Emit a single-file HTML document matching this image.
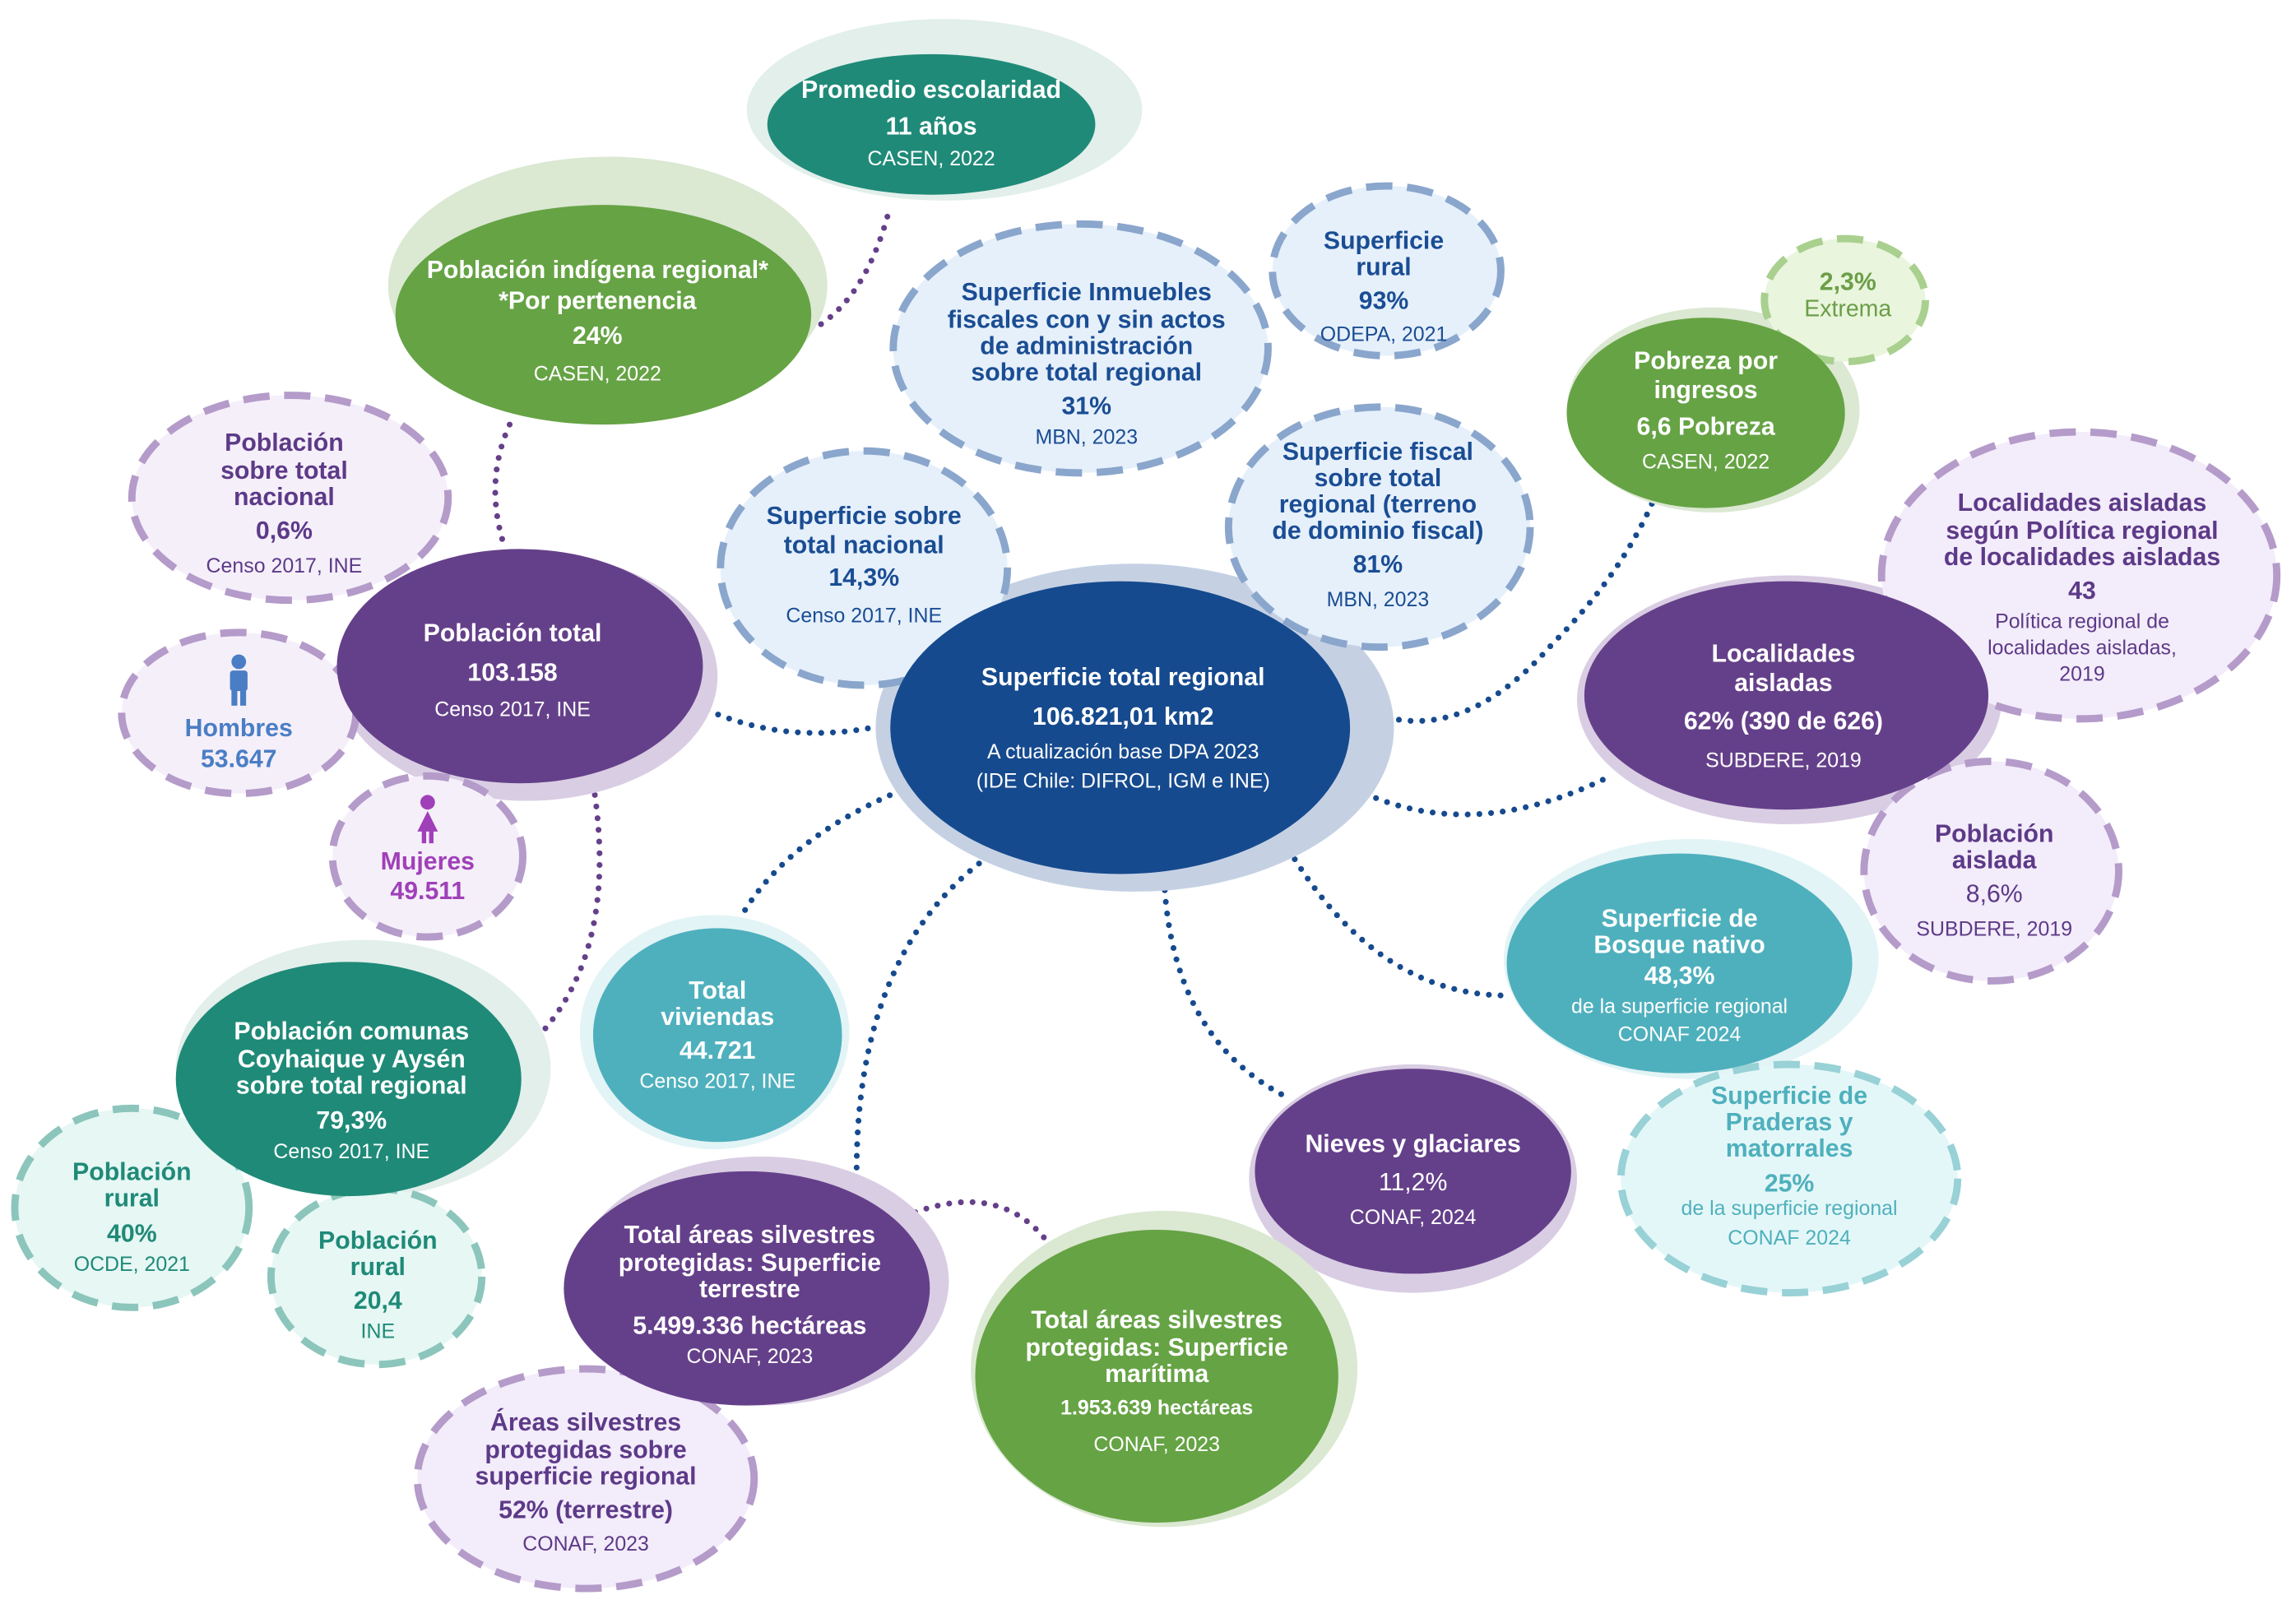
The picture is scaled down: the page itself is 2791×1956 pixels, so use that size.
<!DOCTYPE html>
<html><head><meta charset="utf-8"><style>
html,body{margin:0;padding:0;background:#fff}
svg{display:block}
text{font-family:"Liberation Sans",sans-serif;text-anchor:middle}
.b{font-weight:bold}
</style></head><body>
<svg width="2791" height="1956" viewBox="0 0 1568 1099" xmlns="http://www.w3.org/2000/svg">
<g fill="none" stroke-linecap="round" stroke-width="4" stroke-dasharray="0 8">
<path d="M606,148 Q590,205 555,225" stroke="#65408a"/>
<path d="M348,290 Q330,330 345,375" stroke="#65408a"/>
<path d="M405,535 Q425,660 355,720" stroke="#65408a"/>
<path d="M625,828 Q690,805 722,858" stroke="#65408a"/>
<path d="M483,485 Q540,510 605,495" stroke="#164a8e"/>
<path d="M615,540 Q520,580 495,650" stroke="#164a8e"/>
<path d="M675,585 Q585,650 585,800" stroke="#164a8e"/>
<path d="M795,600 Q800,710 880,750" stroke="#164a8e"/>
<path d="M880,580 Q940,680 1030,680" stroke="#164a8e"/>
<path d="M918,535 Q1000,580 1100,530" stroke="#164a8e"/>
<path d="M918,478 Q990,520 1060,440 Q1110,390 1132,335" stroke="#164a8e"/>
</g>
<!-- halos -->
<ellipse cx="645" cy="75" rx="135" ry="62" fill="#e2efeb"/>
<ellipse cx="415" cy="195" rx="150" ry="88" fill="#dbe8d2"/>
<ellipse cx="1170" cy="280" rx="100" ry="70" fill="#dbe8d2"/>
<ellipse cx="360" cy="462" rx="130" ry="85" fill="#d9cde3"/>
<ellipse cx="775" cy="497" rx="177" ry="112" fill="#c5d1e3"/>
<ellipse cx="1222" cy="478" rx="145" ry="85" fill="#d9cde3"/>
<ellipse cx="1155" cy="655" rx="128" ry="82" fill="#e3f4f6"/>
<ellipse cx="488" cy="705" rx="92" ry="80" fill="#e3f4f6"/>
<ellipse cx="248" cy="730" rx="128" ry="88" fill="#e2efeb"/>
<ellipse cx="965" cy="805" rx="112" ry="78" fill="#d9cde3"/>
<ellipse cx="520" cy="875" rx="128" ry="85" fill="#d9cde3"/>
<ellipse cx="795" cy="935" rx="132" ry="108" fill="#dbe8d2"/>
<!-- dashed bubbles -->
<g stroke-width="5" stroke-dasharray="18 10">
<ellipse cx="738" cy="238" rx="128" ry="85" fill="#e6f0fb" stroke="#8aa6cc"/>
<ellipse cx="947" cy="185" rx="78" ry="58" fill="#e6f0fb" stroke="#8aa6cc"/>
<ellipse cx="1260" cy="205" rx="55" ry="42" fill="#e9f5dc" stroke="#a9d08e"/>
<ellipse cx="942" cy="360" rx="103" ry="82" fill="#e6f0fb" stroke="#8aa6cc"/>
<ellipse cx="590" cy="388" rx="98" ry="80" fill="#e6f0fb" stroke="#8aa6cc"/>
<ellipse cx="198" cy="340" rx="108" ry="70" fill="#f5effa" stroke="#b49bc9"/>
<ellipse cx="1420" cy="393" rx="135" ry="98" fill="#f3ecfa" stroke="#b49bc9"/>
<ellipse cx="163" cy="487" rx="80" ry="55" fill="#f5effa" stroke="#b49bc9"/>
<ellipse cx="292" cy="585" rx="65" ry="55" fill="#f5effa" stroke="#b49bc9"/>
<ellipse cx="1360" cy="595" rx="87" ry="75" fill="#f3ecfa" stroke="#b49bc9"/>
<ellipse cx="1222" cy="805" rx="115" ry="78" fill="#e4f7f8" stroke="#98d1d6"/>
<ellipse cx="90" cy="825" rx="80" ry="68" fill="#e6f7f4" stroke="#8cc5bb"/>
<ellipse cx="257" cy="872" rx="72" ry="60" fill="#e6f7f4" stroke="#8cc5bb"/>
<ellipse cx="400" cy="1010" rx="115" ry="75" fill="#f3ecfa" stroke="#b49bc9"/>
</g>
<!-- solid bubbles -->
<ellipse cx="636" cy="85" rx="112" ry="48" fill="#1f8a78"/>
<ellipse cx="412" cy="215" rx="142" ry="75" fill="#66a344"/>
<ellipse cx="1165" cy="282" rx="95" ry="65" fill="#66a344"/>
<ellipse cx="355" cy="455" rx="125" ry="80" fill="#65408a"/>
<ellipse cx="765" cy="497" rx="157" ry="100" fill="#164a8e"/>
<ellipse cx="1220" cy="475" rx="138" ry="78" fill="#65408a"/>
<ellipse cx="1147" cy="658" rx="118" ry="75" fill="#4fb0bd"/>
<ellipse cx="490" cy="707" rx="85" ry="73" fill="#4fb0bd"/>
<ellipse cx="238" cy="737" rx="118" ry="80" fill="#1f8a78"/>
<ellipse cx="965" cy="800" rx="108" ry="70" fill="#65408a"/>
<ellipse cx="510" cy="880" rx="125" ry="80" fill="#65408a"/>
<ellipse cx="790" cy="940" rx="124" ry="100" fill="#66a344"/>
<!-- icons -->
<g fill="#4a7ec4"><circle cx="163" cy="452" r="5"/><rect x="157" y="458" width="12" height="14" rx="2"/><rect x="158" y="470" width="4" height="12"/><rect x="164" y="470" width="4" height="12"/></g>
<g fill="#a040b8"><circle cx="292" cy="548" r="5"/><path d="M292,554 L299,568 L285,568 Z"/><rect x="288" y="566" width="3" height="10"/><rect x="293" y="566" width="3" height="10"/></g>
<!-- text -->
<g fill="#fff">
<text x="636" y="67" font-size="17" class="b">Promedio escolaridad</text>
<text x="636" y="92" font-size="17" class="b">11 años</text>
<text x="636" y="113" font-size="14">CASEN, 2022</text>
<text x="408" y="190" font-size="17" class="b">Población indígena regional*</text>
<text x="408" y="211" font-size="17" class="b">*Por pertenencia</text>
<text x="408" y="235" font-size="17" class="b">24%</text>
<text x="408" y="260" font-size="14">CASEN, 2022</text>
<text x="1165" y="252" font-size="17" class="b">Pobreza por</text>
<text x="1165" y="272" font-size="17" class="b">ingresos</text>
<text x="1165" y="297" font-size="17" class="b">6,6 Pobreza</text>
<text x="1165" y="320" font-size="14">CASEN, 2022</text>
<text x="350" y="438" font-size="17" class="b">Población total</text>
<text x="350" y="465" font-size="17" class="b">103.158</text>
<text x="350" y="489" font-size="14">Censo 2017, INE</text>
<text x="767" y="468" font-size="17" class="b">Superficie total regional</text>
<text x="767" y="495" font-size="17" class="b">106.821,01 km2</text>
<text x="767" y="518" font-size="14">A  ctualización base DPA 2023</text>
<text x="767" y="538" font-size="14">(IDE Chile: DIFROL, IGM e INE)</text>
<text x="1218" y="452" font-size="17" class="b">Localidades</text>
<text x="1218" y="472" font-size="17" class="b">aisladas</text>
<text x="1218" y="498" font-size="17" class="b">62% (390 de 626)</text>
<text x="1218" y="524" font-size="14">SUBDERE, 2019</text>
<text x="1147" y="633" font-size="17" class="b">Superficie de</text>
<text x="1147" y="651" font-size="17" class="b">Bosque nativo</text>
<text x="1147" y="672" font-size="17" class="b">48,3%</text>
<text x="1147" y="692" font-size="14">de la superficie regional</text>
<text x="1147" y="711" font-size="14">CONAF 2024</text>
<text x="490" y="682" font-size="17" class="b">Total</text>
<text x="490" y="700" font-size="17" class="b">viviendas</text>
<text x="490" y="723" font-size="17" class="b">44.721</text>
<text x="490" y="743" font-size="14">Censo 2017, INE</text>
<text x="240" y="710" font-size="17" class="b">Población comunas</text>
<text x="240" y="729" font-size="17" class="b">Coyhaique y Aysén</text>
<text x="240" y="747" font-size="17" class="b">sobre total regional</text>
<text x="240" y="771" font-size="17" class="b">79,3%</text>
<text x="240" y="791" font-size="14">Censo 2017, INE</text>
<text x="965" y="787" font-size="17" class="b">Nieves y glaciares</text>
<text x="965" y="813" font-size="17">11,2%</text>
<text x="965" y="836" font-size="14">CONAF, 2024</text>
<text x="512" y="849" font-size="17" class="b">Total áreas silvestres</text>
<text x="512" y="868" font-size="17" class="b">protegidas: Superficie</text>
<text x="512" y="886" font-size="17" class="b">terrestre</text>
<text x="512" y="911" font-size="17" class="b">5.499.336 hectáreas</text>
<text x="512" y="931" font-size="14">CONAF, 2023</text>
<text x="790" y="907" font-size="17" class="b">Total áreas silvestres</text>
<text x="790" y="926" font-size="17" class="b">protegidas: Superficie</text>
<text x="790" y="944" font-size="17" class="b">marítima</text>
<text x="790" y="966" font-size="14" class="b">1.953.639 hectáreas</text>
<text x="790" y="991" font-size="14">CONAF, 2023</text>
</g>
<g fill="#1a4d93">
<text x="742" y="205" font-size="17" class="b">Superficie Inmuebles</text>
<text x="742" y="224" font-size="17" class="b">fiscales con y sin actos</text>
<text x="742" y="242" font-size="17" class="b">de administración</text>
<text x="742" y="260" font-size="17" class="b">sobre total regional</text>
<text x="742" y="283" font-size="17" class="b">31%</text>
<text x="742" y="303" font-size="14">MBN, 2023</text>
<text x="945" y="170" font-size="17" class="b">Superficie</text>
<text x="945" y="188" font-size="17" class="b">rural</text>
<text x="945" y="211" font-size="17" class="b">93%</text>
<text x="945" y="233" font-size="14">ODEPA, 2021</text>
<text x="941" y="314" font-size="17" class="b">Superficie fiscal</text>
<text x="941" y="332" font-size="17" class="b">sobre total</text>
<text x="941" y="350" font-size="17" class="b">regional (terreno</text>
<text x="941" y="368" font-size="17" class="b">de dominio fiscal)</text>
<text x="941" y="391" font-size="17" class="b">81%</text>
<text x="941" y="414" font-size="14">MBN, 2023</text>
<text x="590" y="358" font-size="17" class="b">Superficie sobre</text>
<text x="590" y="378" font-size="17" class="b">total nacional</text>
<text x="590" y="400" font-size="17" class="b">14,3%</text>
<text x="590" y="425" font-size="14">Censo 2017, INE</text>
</g>
<g fill="#6b9e48"><text x="1262" y="198" font-size="17" class="b">2,3%</text><text x="1262" y="216" font-size="16">Extrema</text></g>
<g fill="#5d3a88">
<text x="194" y="308" font-size="17" class="b">Población</text>
<text x="194" y="327" font-size="17" class="b">sobre total</text>
<text x="194" y="345" font-size="17" class="b">nacional</text>
<text x="194" y="368" font-size="17" class="b">0,6%</text>
<text x="194" y="391" font-size="14">Censo 2017, INE</text>
<text x="1422" y="349" font-size="17" class="b">Localidades aisladas</text>
<text x="1422" y="368" font-size="17" class="b">según Política regional</text>
<text x="1422" y="386" font-size="17" class="b">de localidades aisladas</text>
<text x="1422" y="409" font-size="17" class="b">43</text>
<text x="1422" y="429" font-size="14">Política regional de</text>
<text x="1422" y="447" font-size="14">localidades aisladas,</text>
<text x="1422" y="465" font-size="14">2019</text>
<text x="1362" y="575" font-size="17" class="b">Población</text>
<text x="1362" y="593" font-size="17" class="b">aislada</text>
<text x="1362" y="616" font-size="17">8,6%</text>
<text x="1362" y="639" font-size="14">SUBDERE, 2019</text>
<text x="400" y="977" font-size="17" class="b">Áreas silvestres</text>
<text x="400" y="996" font-size="17" class="b">protegidas sobre</text>
<text x="400" y="1014" font-size="17" class="b">superficie regional</text>
<text x="400" y="1037" font-size="17" class="b">52% (terrestre)</text>
<text x="400" y="1059" font-size="14">CONAF, 2023</text>
</g>
<g fill="#4a7ec4" class="b"><text x="163" y="503" font-size="17" class="b">Hombres</text><text x="163" y="524" font-size="17" class="b">53.647</text></g>
<g fill="#a040b8"><text x="292" y="594" font-size="17" class="b">Mujeres</text><text x="292" y="614" font-size="17" class="b">49.511</text></g>
<g fill="#4fb0bd">
<text x="1222" y="754" font-size="17" class="b">Superficie de</text>
<text x="1222" y="772" font-size="17" class="b">Praderas y</text>
<text x="1222" y="790" font-size="17" class="b">matorrales</text>
<text x="1222" y="814" font-size="17" class="b">25%</text>
<text x="1222" y="830" font-size="14">de la superficie regional</text>
<text x="1222" y="850" font-size="14">CONAF 2024</text>
</g>
<g fill="#1f8a78">
<text x="90" y="806" font-size="17" class="b">Población</text>
<text x="90" y="824" font-size="17" class="b">rural</text>
<text x="90" y="848" font-size="17" class="b">40%</text>
<text x="90" y="868" font-size="14">OCDE, 2021</text>
<text x="258" y="853" font-size="17" class="b">Población</text>
<text x="258" y="871" font-size="17" class="b">rural</text>
<text x="258" y="894" font-size="17" class="b">20,4</text>
<text x="258" y="914" font-size="14">INE</text>
</g>
</svg>
</body></html>
